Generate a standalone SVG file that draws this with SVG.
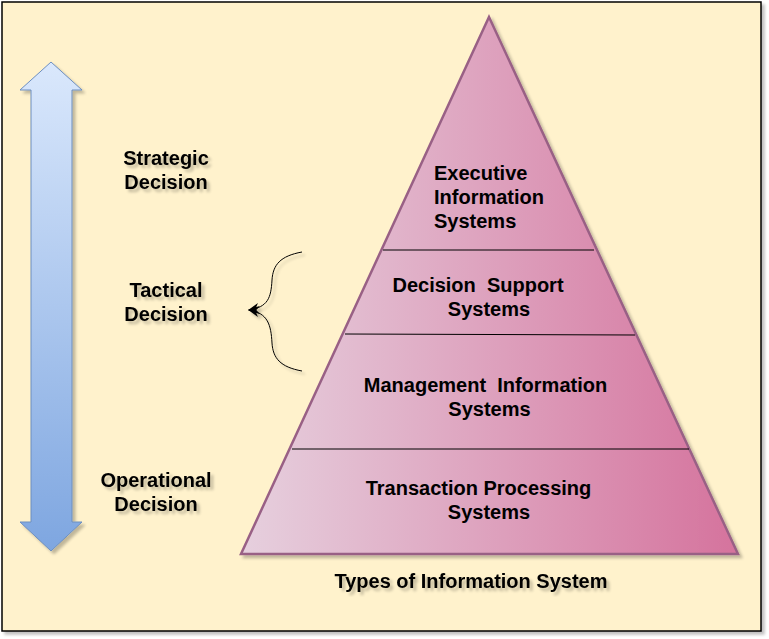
<svg xmlns="http://www.w3.org/2000/svg" width="769" height="639" viewBox="0 0 769 639">
<style>
.t{font-family:"Liberation Sans",Arial,sans-serif;font-weight:bold;font-size:20px;fill:#000;white-space:pre}
.c{text-anchor:middle}
.sh{filter:url(#shadow)}
.div{stroke:#000;stroke-width:1;fill:none}
.brace{stroke:#000;stroke-width:1;fill:none;marker-end:url(#arr)}
</style>
<defs>
<filter id="shadow" x="-20%" y="-20%" width="140%" height="140%">
<feGaussianBlur in="SourceAlpha" stdDeviation="1.5"/>
<feOffset dx="3" dy="3" result="b"/>
<feComponentTransfer><feFuncA type="linear" slope="0.25"/></feComponentTransfer>
<feMerge><feMergeNode/><feMergeNode in="SourceGraphic"/></feMerge>
</filter>
<linearGradient id="gArrow" x1="0" y1="0" x2="0" y2="1">
<stop offset="0" stop-color="#dae8fc"/>
<stop offset="1" stop-color="#7ea6e0"/>
</linearGradient>
<linearGradient id="gPyr" x1="0" y1="0" x2="1" y2="0">
<stop offset="0" stop-color="#e6d0de"/>
<stop offset="1" stop-color="#d5739d"/>
</linearGradient>
<marker id="arr" viewBox="0 0 10 10" refX="9" refY="5" markerWidth="11" markerHeight="11" markerUnits="userSpaceOnUse" orient="auto">
<path d="M0,0 L10,5 L0,10 L3,5 Z" fill="#000"/>
</marker>
</defs>
<g id="frame" class="sh">
<rect x="2" y="2" width="759" height="629" fill="#fff2cc" stroke="#000" stroke-width="1.5"/>
</g>
<g id="decision-arrow" class="sh">
<path d="M51,62 L82,90 L72,90 L72,522 L82,522 L51,551 L20,522 L31,522 L31,90 L20,90 Z" fill="url(#gArrow)" stroke="#6c8ebf" stroke-width="1"/>
</g>
<g id="pyramid">
<path class="sh" d="M489,17 L738,554 L241,554 Z" fill="url(#gPyr)" stroke="#996185" stroke-width="2.5" stroke-linejoin="miter"/>
<line class="div" x1="383" y1="250" x2="594" y2="250"/>
<line class="div" x1="345" y1="334" x2="635" y2="335"/>
<line class="div" x1="292" y1="449" x2="689" y2="449"/>
</g>
<g id="eis">
<text class="t" x="434" y="180">Executive</text>
<text class="t" x="434" y="204">Information</text>
<text class="t" x="434" y="228">Systems</text>
</g>
<g id="dss">
<text class="t c" x="478" y="292">Decision  Support</text>
<text class="t c" x="489" y="316">Systems</text>
</g>
<g id="mis">
<text class="t c" x="485.5" y="391.5">Management  Information</text>
<text class="t c" x="489.5" y="415.5">Systems</text>
</g>
<g id="tps">
<text class="t c" x="478.5" y="495">Transaction Processing</text>
<text class="t c" x="489" y="519">Systems</text>
</g>
<g id="strategic" class="sh">
<text class="t c" x="166" y="165">Strategic</text>
<text class="t c" x="166" y="189">Decision</text>
</g>
<g id="tactical" class="sh">
<text class="t c" x="166" y="297">Tactical</text>
<text class="t c" x="166" y="321">Decision</text>
</g>
<g id="operational" class="sh">
<text class="t c" x="156" y="487">Operational</text>
<text class="t c" x="156" y="511">Decision</text>
</g>
<g id="title" class="sh">
<text class="t c" x="471" y="588">Types of Information System</text>
</g>
<g id="connectors" class="sh">
<path class="brace" d="M302,252 C280,256 273,265 272,280 C271,298 268,307 249,310"/>
<path class="brace" d="M302,371 C280,367 273,358 272,343 C271,325 268,313 249,310"/>
</g>
</svg>
